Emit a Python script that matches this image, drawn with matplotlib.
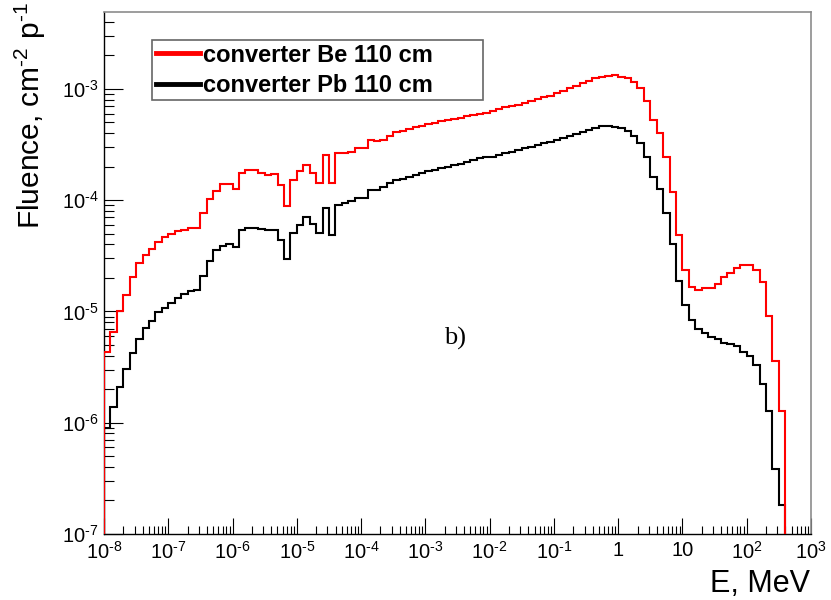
"""Neutron fluence spectra behind Be and Pb converters (110 cm), log-log step plot."""

import matplotlib

matplotlib.use("Agg")
import matplotlib.pyplot as plt
import numpy as np
from matplotlib.ticker import FuncFormatter, LogLocator, NullFormatter

# 10 log-uniform bins per decade from 1e-8 to 1e3 MeV
E_EDGES = np.logspace(-8, 3, 111)

# Fluence per bin, cm^-2 p^-1
FLUENCE_BE = [
    4.35e-6, 6.58e-6, 1.00e-5, 1.41e-5, 2.02e-5, 2.70e-5, 3.19e-5, 3.66e-5, 4.22e-5, 4.66e-5,
    4.95e-5, 5.27e-5, 5.42e-5, 5.56e-5, 5.56e-5, 7.60e-5, 1.02e-4, 1.21e-4, 1.39e-4, 1.39e-4,
    1.26e-4, 1.77e-4, 1.85e-4, 1.85e-4, 1.76e-4, 1.68e-4, 1.73e-4, 1.37e-4, 8.79e-5, 1.53e-4,
    1.82e-4, 2.07e-4, 1.76e-4, 1.43e-4, 2.54e-4, 1.43e-4, 2.63e-4, 2.65e-4, 2.72e-4, 2.92e-4,
    2.92e-4, 3.47e-4, 3.37e-4, 3.50e-4, 3.77e-4, 4.06e-4, 4.22e-4, 4.35e-4, 4.51e-4, 4.66e-4,
    4.81e-4, 4.95e-4, 5.12e-4, 5.25e-4, 5.41e-4, 5.52e-4, 5.66e-4, 5.82e-4, 5.94e-4, 6.10e-4,
    6.34e-4, 6.58e-4, 6.82e-4, 7.00e-4, 7.14e-4, 7.50e-4, 7.76e-4, 8.05e-4, 8.39e-4, 8.67e-4,
    9.12e-4, 9.55e-4, 1.01e-3, 1.07e-3, 1.12e-3, 1.18e-3, 1.24e-3, 1.29e-3, 1.31e-3, 1.32e-3,
    1.29e-3, 1.24e-3, 1.16e-3, 1.01e-3, 7.74e-4, 5.21e-4, 4.04e-4, 2.44e-4, 1.18e-4, 4.81e-5,
    2.37e-5, 1.67e-5, 1.56e-5, 1.61e-5, 1.63e-5, 1.75e-5, 2.05e-5, 2.20e-5, 2.44e-5, 2.61e-5,
    2.61e-5, 2.36e-5, 1.85e-5, 9.10e-6, 3.61e-6, 1.28e-6, 0.0, 0.0, 0.0, 0.0,
]

FLUENCE_PB = [
    8.91e-7, 1.39e-6, 2.10e-6, 3.02e-6, 4.26e-6, 5.61e-6, 7.05e-6, 8.20e-6, 9.82e-6, 1.07e-5,
    1.20e-5, 1.31e-5, 1.43e-5, 1.53e-5, 1.55e-5, 2.08e-5, 2.86e-5, 3.56e-5, 3.87e-5, 4.04e-5,
    3.79e-5, 5.38e-5, 5.61e-5, 5.57e-5, 5.53e-5, 5.38e-5, 5.42e-5, 4.41e-5, 2.97e-5, 5.04e-5,
    5.97e-5, 7.00e-5, 6.09e-5, 5.06e-5, 8.53e-5, 4.85e-5, 9.03e-5, 9.42e-5, 9.82e-5, 1.04e-4,
    1.04e-4, 1.24e-4, 1.23e-4, 1.30e-4, 1.43e-4, 1.52e-4, 1.56e-4, 1.61e-4, 1.68e-4, 1.76e-4,
    1.81e-4, 1.87e-4, 1.94e-4, 2.00e-4, 2.07e-4, 2.13e-4, 2.20e-4, 2.27e-4, 2.38e-4, 2.42e-4,
    2.44e-4, 2.54e-4, 2.63e-4, 2.72e-4, 2.82e-4, 2.92e-4, 3.02e-4, 3.13e-4, 3.24e-4, 3.35e-4,
    3.47e-4, 3.64e-4, 3.77e-4, 3.93e-4, 4.12e-4, 4.27e-4, 4.47e-4, 4.63e-4, 4.68e-4, 4.58e-4,
    4.42e-4, 4.21e-4, 3.80e-4, 3.24e-4, 2.42e-4, 1.61e-4, 1.26e-4, 7.60e-5, 4.07e-5, 1.86e-5,
    1.14e-5, 8.38e-6, 6.90e-6, 6.44e-6, 5.93e-6, 5.61e-6, 5.16e-6, 5.06e-6, 4.89e-6, 4.35e-6,
    3.97e-6, 3.30e-6, 2.23e-6, 1.28e-6, 3.81e-7, 1.82e-7, 0.0, 0.0, 0.0, 0.0,
]

LABEL_BE = "converter Be 110 cm"
LABEL_PB = "converter Pb 110 cm"

plt.rcParams["font.family"] = ["Liberation Sans", "DejaVu Sans"]
plt.rcParams["mathtext.fontset"] = "custom"
plt.rcParams["mathtext.rm"] = "Liberation Sans"
plt.rcParams["mathtext.it"] = "Liberation Sans:italic"
plt.rcParams["mathtext.bf"] = "Liberation Sans:bold"
plt.rcParams["axes.unicode_minus"] = False


def power_label(exp):
    # ROOT-style exponent with a short hyphen instead of a wide minus sign
    if exp < 0:
        return rf"$\mathregular{{10^{{\text{{-}}{-exp}}}}}$"
    return rf"$\mathregular{{10^{{{exp}}}}}$"


def energy_label(x, _pos):
    exp = int(round(np.log10(x)))
    if exp == 0:
        return "1"
    if exp == 1:
        return "10"
    return power_label(exp)


def fluence_label(y, _pos):
    return power_label(int(round(np.log10(y))))


fig = plt.figure(figsize=(8.31, 6.0), dpi=100)
fig.patch.set_facecolor("white")
ax = fig.add_axes([104 / 831, 66 / 600, 707 / 831, 522 / 600])

ax.stairs(FLUENCE_PB, E_EDGES, baseline=0, color="black", lw=1.5, zorder=3, label=LABEL_PB)
ax.stairs(FLUENCE_BE, E_EDGES, baseline=0, color="red", lw=1.5, zorder=3, label=LABEL_BE)

ax.set_xscale("log")
ax.set_yscale("log")
ax.set_xlim(1e-8, 1e3)
ax.set_ylim(1e-7, 4.9e-3)

ax.xaxis.set_major_locator(LogLocator(base=10, numticks=20))
ax.xaxis.set_minor_locator(LogLocator(base=10, subs=np.arange(2, 10), numticks=200))
ax.xaxis.set_major_formatter(FuncFormatter(energy_label))
ax.xaxis.set_minor_formatter(NullFormatter())
ax.yaxis.set_major_locator(LogLocator(base=10, numticks=20))
ax.yaxis.set_minor_locator(LogLocator(base=10, subs=np.arange(2, 10), numticks=200))
ax.yaxis.set_major_formatter(FuncFormatter(fluence_label))
ax.yaxis.set_minor_formatter(NullFormatter())

ax.tick_params(axis="x", which="major", direction="in", length=11.5, width=0.8, labelsize=14.5, pad=5)
ax.tick_params(axis="x", which="minor", direction="in", length=5.5, width=0.8)
ax.tick_params(axis="y", which="major", direction="in", length=14, width=0.8, labelsize=14.5, pad=4)
ax.tick_params(axis="y", which="minor", direction="in", length=7, width=0.8)

for side in ("left", "bottom"):
    ax.spines[side].set_color("black")
    ax.spines[side].set_linewidth(1.0)
for side in ("top", "right"):
    ax.spines[side].set_color("0.55")
    ax.spines[side].set_linewidth(1.2)

handles, labels = ax.get_legend_handles_labels()
leg = ax.legend(
    handles[::-1],
    labels[::-1],
    loc="upper left",
    bbox_to_anchor=(152 / 831, 1 - 100 / 600, 331 / 831, 60 / 600),
    bbox_transform=fig.transFigure,
    mode="expand",
    prop={"weight": "bold", "size": 17},
    handlelength=1.9,
    handletextpad=0.1,
    borderpad=0.15,
    labelspacing=0.31,
    borderaxespad=0,
    frameon=True,
    fancybox=False,
    framealpha=1,
    edgecolor="0.4",
)
leg.get_frame().set_linewidth(1.2)
for line in leg.get_lines():
    line.set_linewidth(3.5)

ax.text(0.4965, 0.375, "b)", transform=ax.transAxes, ha="center", va="center",
        fontsize=19, family=["Liberation Serif", "DejaVu Serif"])

fig.text(48 / 831, 1 - 2 / 600, r"Fluence, cm$^{\text{-}2}$ p$^{\text{-}1}$", rotation=90,
         ha="right", va="top", fontsize=21.5)
fig.text(810 / 831, 1 - 592 / 600, "E, MeV", ha="right", va="baseline", fontsize=22)

fig.savefig("out.png", dpi=100)
